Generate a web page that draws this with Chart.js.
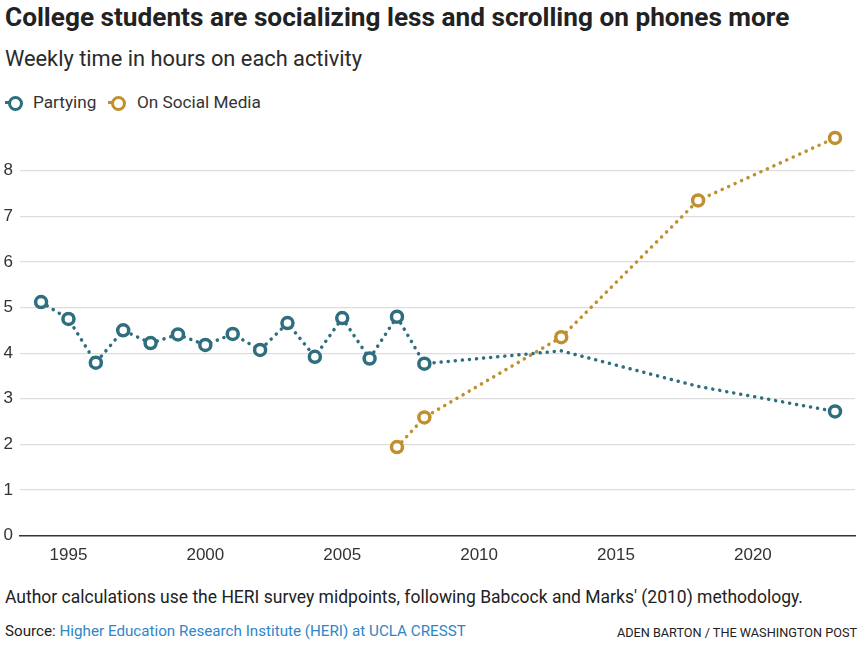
<!DOCTYPE html>
<html>
<head>
<meta charset="utf-8">
<script src="https://cdn.jsdelivr.net/npm/chart.js@4.4.1/dist/chart.umd.min.js"></script>
<style>
  html, body { margin: 0; padding: 0; background: #fff; }
  body { width: 866px; height: 654px; position: relative; overflow: hidden; font-family: "Roboto", sans-serif; color: #222; }
  .title { position: absolute; left: 5px; top: 2px; font-size: 26.2px; font-weight: bold; color: #222; white-space: nowrap; }
  .subtitle { position: absolute; left: 5px; top: 46px; font-size: 21.8px; color: #2a2a2a; white-space: nowrap; }
  .legend { position: absolute; left: 5px; top: 92px; font-size: 17.2px; color: #333; white-space: nowrap; }
  .legend span.item { position: absolute; top: 0; }
  .mk { position: absolute; top: 4px; width: 9px; height: 9px; border-radius: 50%; border: 3px solid; background: #fff; }
  .stub { position: absolute; top: 9px; width: 6px; height: 3px; }
  .note { position: absolute; left: 5px; top: 587px; font-size: 17.5px; color: #222; white-space: nowrap; }
  .source { position: absolute; left: 5px; top: 622px; font-size: 15.2px; color: #222; white-space: nowrap; }
  .source a { color: #2f86c6; text-decoration: none; }
  .credit { position: absolute; right: 9px; top: 625px; font-size: 12.7px; color: #222; white-space: nowrap; }
  #wrap { position: absolute; left: 0; top: 107.5px; width: 866px; height: 462.5px; }
</style>
</head>
<body>
<div class="title">College students are socializing less and scrolling on phones more</div>
<div class="subtitle">Weekly time in hours on each activity</div>
<div class="legend">
  <span class="stub" style="left:0px;background:#2e6e7e"></span>
  <span class="mk" style="left:3px;border-color:#2e6e7e"></span>
  <span class="item" style="left:28px">Partying</span>
  <span class="stub" style="left:103px;background:#c08f2e"></span>
  <span class="mk" style="left:106px;border-color:#c08f2e"></span>
  <span class="item" style="left:132px">On Social Media</span>
</div>
<div id="wrap"><canvas id="chart"></canvas></div>
<div class="note">Author calculations use the HERI survey midpoints, following Babcock and Marks' (2010) methodology.</div>
<div class="source">Source: <a>Higher Education Research Institute (HERI) at UCLA CRESST</a></div>
<div class="credit">ADEN BARTON / THE WASHINGTON POST</div>
<script>
// --- data ---
const partyYears = [1994, 1995, 1996, 1997, 1998, 1999, 2000, 2001, 2002, 2003, 2004, 2005, 2006, 2007, 2008, 2013, 2018, 2023];
const partyHours = [5.12, 4.75, 3.79, 4.50, 4.22, 4.41, 4.18, 4.42, 4.07, 4.66, 3.92, 4.77, 3.88, 4.80, 3.77, 4.05, 3.27, 2.72];
const partyMarked = [true, true, true, true, true, true, true, true, true, true, true, true, true, true, true, false, false, true];
const socialYears = [2007, 2008, 2013, 2018, 2023];
const socialHours = [1.94, 2.59, 4.35, 7.35, 8.72];
const xTicks = [1995, 2000, 2005, 2010, 2015, 2020];
const yTicks = [0, 1, 2, 3, 4, 5, 6, 7, 8];

const teal = '#2e6e7e';
const gold = '#c08f2e';
const ink = '#333';
const tickFont = { family: 'Liberation Sans, Arial, sans-serif', size: 17 };

new Chart(document.getElementById('chart').getContext('2d'), {
    type: 'line',
    data: {
        datasets: [
            {
                label: 'Partying',
                data: partyYears.map((y, i) => ({ x: y, y: partyHours[i] })),
                borderColor: teal,
                borderWidth: 3.5,
                borderDash: [0.1, 7],
                borderCapStyle: 'round',
                pointRadius: partyMarked.map(m => m ? 5.5 : 0),
                pointBorderWidth: 3.5,
                pointBackgroundColor: '#fff',
                pointBorderColor: teal,
                tension: 0
            },
            {
                label: 'On Social Media',
                data: socialYears.map((y, i) => ({ x: y, y: socialHours[i] })),
                borderColor: gold,
                borderWidth: 3.5,
                borderDash: [0.1, 7],
                borderCapStyle: 'round',
                pointRadius: 5.5,
                pointBorderWidth: 3.5,
                pointBackgroundColor: '#fff',
                pointBorderColor: gold,
                tension: 0
            }
        ]
    },
    options: {
        responsive: true,
        maintainAspectRatio: false,
        animation: false,
        layout: { padding: { top: 7.5, right: 11, left: 0, bottom: 0 } },
        scales: {
            x: {
                type: 'linear',
                min: 1993.23,
                max: 2023.73,
                afterBuildTicks: s => { s.ticks = xTicks.map(v => ({ value: v })); },
                afterFit: s => { s.height = 35; },
                ticks: { color: ink, font: tickFont, padding: 10, maxRotation: 0, callback: v => String(v) },
                grid: { display: false, drawTicks: false },
                border: { display: true, color: ink, width: 1.5 }
            },
            y: {
                min: 0,
                max: 9,
                afterBuildTicks: s => { s.ticks = yTicks.map(v => ({ value: v })); },
                afterFit: s => { s.width = 20; },
                ticks: { color: ink, font: tickFont, padding: 7 },
                grid: {
                    drawTicks: false,
                    color: c => c.tick && c.tick.value === 0 ? 'rgba(0,0,0,0)' : '#dddddd',
                    lineWidth: 1.2
                },
                border: { display: false }
            }
        },
        plugins: {
            legend: { display: false },
            tooltip: { enabled: false }
        }
    }
});
</script>
</body>
</html>
